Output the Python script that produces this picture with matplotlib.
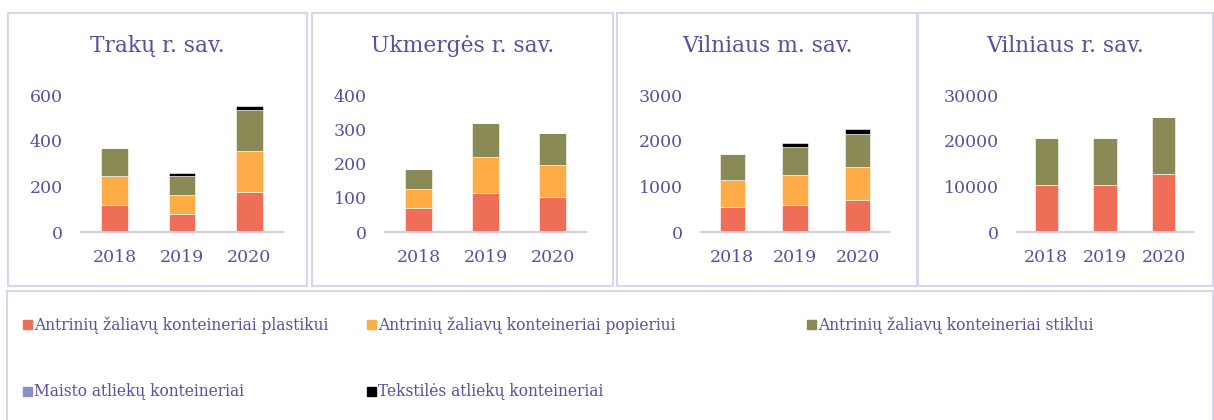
import matplotlib
matplotlib.use("Agg")
import matplotlib.pyplot as plt
from matplotlib.patches import Rectangle
import numpy as np

plt.rcParams['font.family'] = ['DejaVu Serif']

years = ["2018", "2019", "2020"]
titles = ["Trakų r. sav.", "Ukmergės r. sav.", "Vilniaus m. sav.", "Vilniaus r. sav."]
series_names = [
    "Antrinių žaliavų konteineriai plastikui",
    "Antrinių žaliavų konteineriai popieriui",
    "Antrinių žaliavų konteineriai stiklui",
    "Maisto atliekų konteineriai",
    "Tekstilės atliekų konteineriai",
]
colors = ["#ee6e57", "#fdac47", "#898a55", "#8a90c8", "#000000"]

# segment values per panel: plastic, paper, glass, food, textile
plastic = [[120, 80, 177], [71, 115, 102], [562, 606, 716], [10320, 10300, 12650]]
paper = [[125, 81, 179], [56, 104, 93], [587, 646, 718], [100, 100, 150]]
glass = [[122, 84, 180], [57, 99, 94], [571, 614, 718], [10290, 10300, 12460]]
food = [[0, 0, 0], [0, 0, 0], [0, 0, 0], [0, 0, 0]]
textile = [[0, 15, 15], [0, 0, 0], [0, 80, 110], [0, 0, 0]]
ymax = [600, 400, 3000, 30000]
ystep = [200, 100, 1000, 10000]

text_color = "#5a4fa0"
border = "#d9d5ec"

W, H = 1214, 420
fig = plt.figure(figsize=(W / 100, H / 100), dpi=100)

# panel frames (pixels): left, right
frames = [(8, 307), (312, 613), (617, 917), (918, 1213)]
axes_px = [(81, 283), (385, 586), (701, 889), (1017, 1193)]
y0, ytop = 232.3, 95.0

for f in frames:
    fig.patches.append(Rectangle((f[0] / W, 1 - 286 / H), (f[1] - f[0]) / W, (286 - 13) / H,
                                 transform=fig.transFigure, fill=False, edgecolor=border, lw=1.5))
fig.patches.append(Rectangle((7 / W, 1 - 425 / H), (1213 - 7) / W, (425 - 291) / H,
                             transform=fig.transFigure, fill=False, edgecolor=border, lw=1.5))

x = np.arange(len(years))
for i in range(4):
    l, r = axes_px[i]
    ax = fig.add_axes([l / W, 1 - y0 / H, (r - l) / W, (y0 - ytop) / H])
    bottom = np.zeros(3)
    for s, data in enumerate([plastic, paper, glass, food, textile]):
        vals = np.array(data[i], dtype=float)
        ax.bar(x, vals, 0.4, bottom=bottom, color=colors[s], edgecolor="white", linewidth=0.4)
        bottom += vals
    ax.set_xlim(-0.5, 2.5)
    ax.set_ylim(0, ymax[i])
    ax.set_yticks(np.arange(0, ymax[i] + 1, ystep[i]))
    ax.set_xticks(x)
    ax.set_xticklabels(years)
    for sp in ["top", "right", "left"]:
        ax.spines[sp].set_visible(False)
    ax.spines["bottom"].set_color("#d0cce6")
    ax.spines["bottom"].set_linewidth(1.5)
    ax.tick_params(axis="both", length=0, labelsize=12.5, colors=text_color)
    ax.tick_params(axis="y", pad=13)
    ax.tick_params(axis="x", pad=12)
    cx = (frames[i][0] + frames[i][1]) / 2
    fig.text(cx / W, 1 - 46 / H, titles[i], ha="center", va="center", fontsize=15.7, color=text_color)

# legend
legend_pos = [(27, 325), (371, 325), (811, 325), (27, 392), (371, 392)]
for s, (px, py) in enumerate(legend_pos):
    fig.patches.append(Rectangle(((px - 4) / W, 1 - (py + 4) / H), 9 / W, 9 / H,
                                 transform=fig.transFigure, color=colors[s]))
    fig.text((px + 7) / W, 1 - py / H, series_names[s], ha="left", va="center",
             fontsize=11.2, color=text_color)

fig.savefig("out.png", dpi=100)
